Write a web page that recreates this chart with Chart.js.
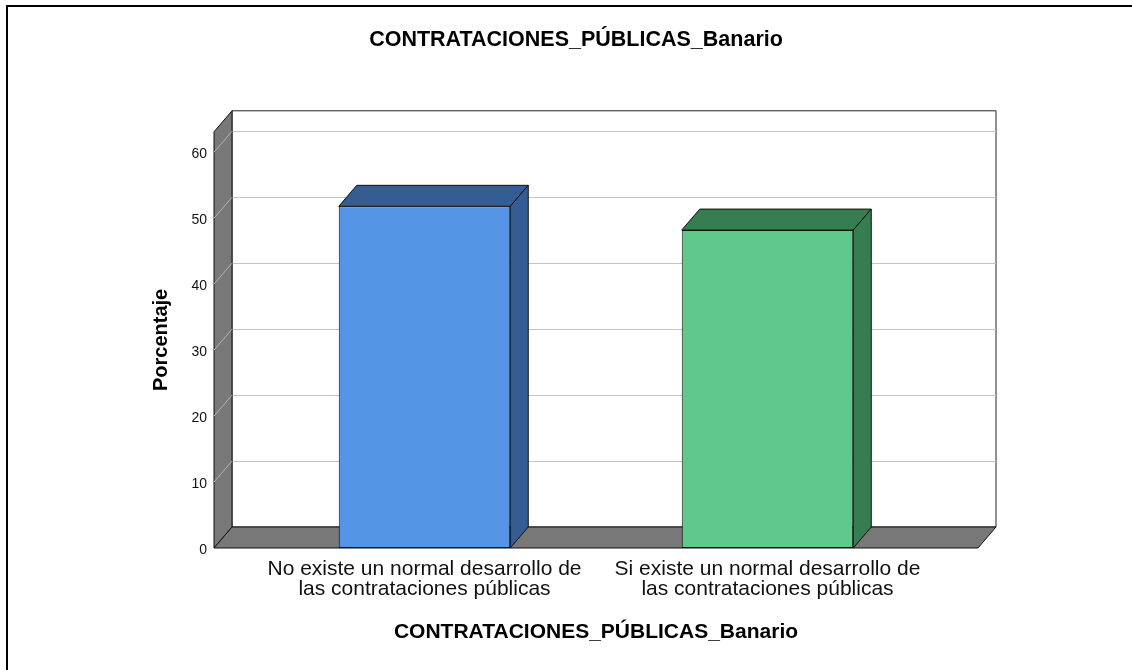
<!DOCTYPE html>
<html lang="es">
<head>
    <meta charset="UTF-8">
    <title>CONTRATACIONES_PÚBLICAS_Banario</title>
    <script src="https://cdn.jsdelivr.net/npm/chart.js"></script>
    <style>
        html, body { margin: 0; padding: 0; background: #fff; overflow: hidden; }
        #frame { position: absolute; left: 6px; top: 5px; width: 2000px; height: 2000px;
                 border-top: 2px solid #000; border-left: 2px solid #000; }
        #chart { position: absolute; left: 0; top: 0; }
    </style>
</head>
<body>
    <div id="frame"></div>
    <canvas id="chart" width="1132" height="670"></canvas>
    <script>
        // data
        const categories = [
            ['No existe un normal desarrollo de', 'las contrataciones públicas'],
            ['Si existe un normal desarrollo de', 'las contrataciones públicas']
        ];
        const percentages = [51.8, 48.2];
        const chartTitle = 'CONTRATACIONES_PÚBLICAS_Banario';
        const xTitle = 'CONTRATACIONES_PÚBLICAS_Banario';
        const yTitle = 'Porcentaje';

        const frontColors = ['#5595e5', '#5ec98b'];
        const darkColors = ['#355d93', '#377d52'];
        const FONT = "'Liberation Sans', Arial, sans-serif";

        // fake 3D: depth offset and how far the walls reach past the bars' categories
        const DX = 18, DY = -21, WING = 39;

        function poly(ctx, pts, fill, stroke) {
            ctx.beginPath();
            ctx.moveTo(pts[0][0], pts[0][1]);
            for (let i = 1; i < pts.length; i++) ctx.lineTo(pts[i][0], pts[i][1]);
            ctx.closePath();
            ctx.fillStyle = fill;
            ctx.fill();
            ctx.strokeStyle = stroke;
            ctx.lineWidth = 1;
            ctx.stroke();
        }

        function line(ctx, x1, y1, x2, y2, color) {
            ctx.beginPath();
            ctx.moveTo(x1, y1);
            ctx.lineTo(x2, y2);
            ctx.strokeStyle = color;
            ctx.lineWidth = 1;
            ctx.stroke();
        }

        const depth3d = {
            id: 'depth3d',
            beforeDatasetsDraw(chart) {
                const { ctx, chartArea: a, scales: { y } } = chart;
                const L = a.left - WING, R = a.right + WING;
                const B = y.getPixelForValue(0), T = a.top;
                ctx.save();
                // back wall
                poly(ctx, [[L + DX, T + DY], [R + DX, T + DY], [R + DX, B + DY], [L + DX, B + DY]], '#ffffff', '#222');
                y.ticks.forEach(t => {
                    if (t.value === 0) return;
                    const py = Math.round(y.getPixelForValue(t.value)) + 0.5;
                    line(ctx, L + DX, py + DY, R + DX, py + DY, '#c4c4c4');
                });
                // left wall
                poly(ctx, [[L, B], [L, T], [L + DX, T + DY], [L + DX, B + DY]], '#787878', '#111');
                y.ticks.forEach(t => {
                    if (t.value === 0) return;
                    const py = y.getPixelForValue(t.value);
                    line(ctx, L, py, L + DX, py + DY, '#b4b4b4');
                });
                // floor
                poly(ctx, [[L, B], [R, B], [R + DX, B + DY], [L + DX, B + DY]], '#787878', '#111');
                ctx.restore();
            },
            afterDatasetsDraw(chart) {
                const { ctx } = chart;
                const meta = chart.getDatasetMeta(0);
                ctx.save();
                meta.data.forEach((bar, i) => {
                    const { x, y, base, width } = bar.getProps(['x', 'y', 'base', 'width'], true);
                    const l = x - width / 2, r = x + width / 2;
                    poly(ctx, [[l, y], [l + DX, y + DY], [r + DX, y + DY], [r, y]], darkColors[i], '#111');
                    poly(ctx, [[r, y], [r + DX, y + DY], [r + DX, base + DY], [r, base]], darkColors[i], '#111');
                });
                ctx.restore();
            }
        };

        new Chart(document.getElementById('chart'), {
            type: 'bar',
            data: {
                labels: categories,
                datasets: [{
                    data: percentages,
                    backgroundColor: frontColors,
                    borderColor: '#111',
                    borderWidth: 1,
                    borderSkipped: false,
                    categoryPercentage: 1,
                    barPercentage: 0.5
                }]
            },
            options: {
                responsive: false,
                animation: false,
                events: [],
                layout: { padding: { left: 20, right: 0, top: 0, bottom: 0 } },
                plugins: {
                    legend: { display: false },
                    tooltip: { enabled: false },
                    title: {
                        display: true,
                        text: chartTitle,
                        color: '#000',
                        font: { family: FONT, size: 21.5, weight: 'bold', lineHeight: 1.2 },
                        padding: { top: 27, bottom: 79 }
                    }
                },
                scales: {
                    x: {
                        grid: { display: false, drawTicks: false },
                        border: { display: false },
                        ticks: {
                            color: '#111',
                            padding: 11,
                            maxRotation: 0,
                            font: { family: FONT, size: 21, lineHeight: 0.95 }
                        },
                        title: {
                            display: true,
                            text: xTitle,
                            color: '#000',
                            font: { family: FONT, size: 21, weight: 'bold', lineHeight: 1.2 },
                            padding: { top: 0, bottom: 25 }
                        },
                        afterFit(s) { s.height = 122; }
                    },
                    y: {
                        min: 0,
                        max: 63.1,
                        grid: { display: false, drawTicks: false },
                        border: { display: false },
                        ticks: {
                            stepSize: 10,
                            includeBounds: false,
                            color: '#111',
                            padding: 46,
                            labelOffset: 2,
                            font: { family: FONT, size: 14 }
                        },
                        title: {
                            display: true,
                            text: yTitle,
                            color: '#000',
                            font: { family: FONT, size: 20, weight: 'bold', lineHeight: 1.2 },
                            padding: { top: 129, bottom: 0 }
                        },
                        afterFit(s) { s.width = 233; }
                    },
                    right: {
                        type: 'linear',
                        position: 'right',
                        grid: { display: false, drawTicks: false },
                        border: { display: false },
                        ticks: { display: false },
                        afterFit(s) { s.width = 193; }
                    }
                }
            },
            plugins: [depth3d]
        });
    </script>
</body>
</html>
